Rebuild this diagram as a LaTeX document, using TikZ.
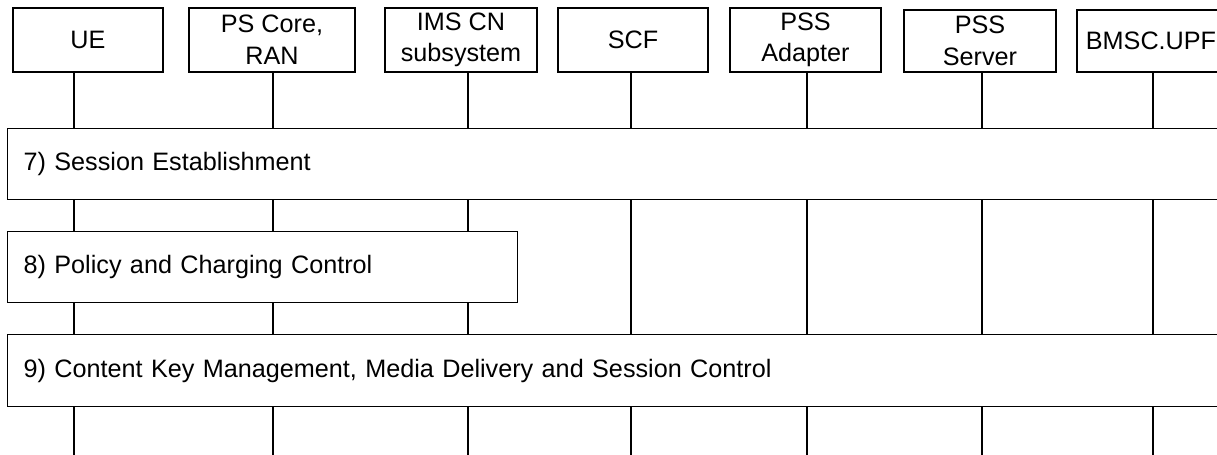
\documentclass[tikz,border=0pt]{standalone}
\usepackage{fontspec}
\setmainfont{Liberation Sans}
\usepackage{tikz}
\usetikzlibrary{positioning}
\tikzstyle{head}=[draw, fill=white, align=center, inner sep=0pt, line width=0.6pt]
\tikzstyle{phase}=[draw, fill=white, align=left, inner xsep=8pt, inner ysep=0pt, line width=0.6pt, anchor=north west]

\begin{document}
\begin{tikzpicture}[x=0.5pt,y=-0.5pt,font=\fontsize{12.6}{15.8}\selectfont]
\useasboundingbox (0,0) rectangle (1217,455);
% entities and their lifelines
\foreach \nm/\xl/\xr/\yt/\xm/\txt in {ue/13/163/8/74/UE, core/189/355/8/273/{PS Core,\\RAN}, ims/385/537/8/468/{IMS CN\\subsystem}, scf/558/708/8/631/SCF, adapter/730/881/8/807/{PSS\\Adapter}, server/904/1056/10/982/{PSS\\Server}, bmsc/1077/1225/10/1153/BMSC.UPF} {
	\node[head, minimum width={(\xr-\xl)*0.5pt}, minimum height={(72-\yt)*0.5pt}] (\nm) at ({(\xl+\xr)/2},{(\yt+72)/2}) {\txt};
	\coordinate (\nm-top) at (\xm,72);
	\coordinate (\nm-end) at (\xm,455);
	\draw[line width=0.6pt] (\nm-top) -- (\nm-end);
}
% procedure steps
\foreach \nm/\yt/\yb/\xr/\txt in {est/128/199/1225/{7) Session Establishment}, pcc/231/302/517/{8) Policy and Charging Control}, ckm/334/406/1225/{9) Content Key Management, Media Delivery and Session Control}} {
	\node[phase, text width={(\xr-7-32)*0.5pt}, minimum height={(\yb-\yt)*0.5pt}] (\nm) at (7,\yt) {\txt};
}
\end{tikzpicture}
\end{document}
